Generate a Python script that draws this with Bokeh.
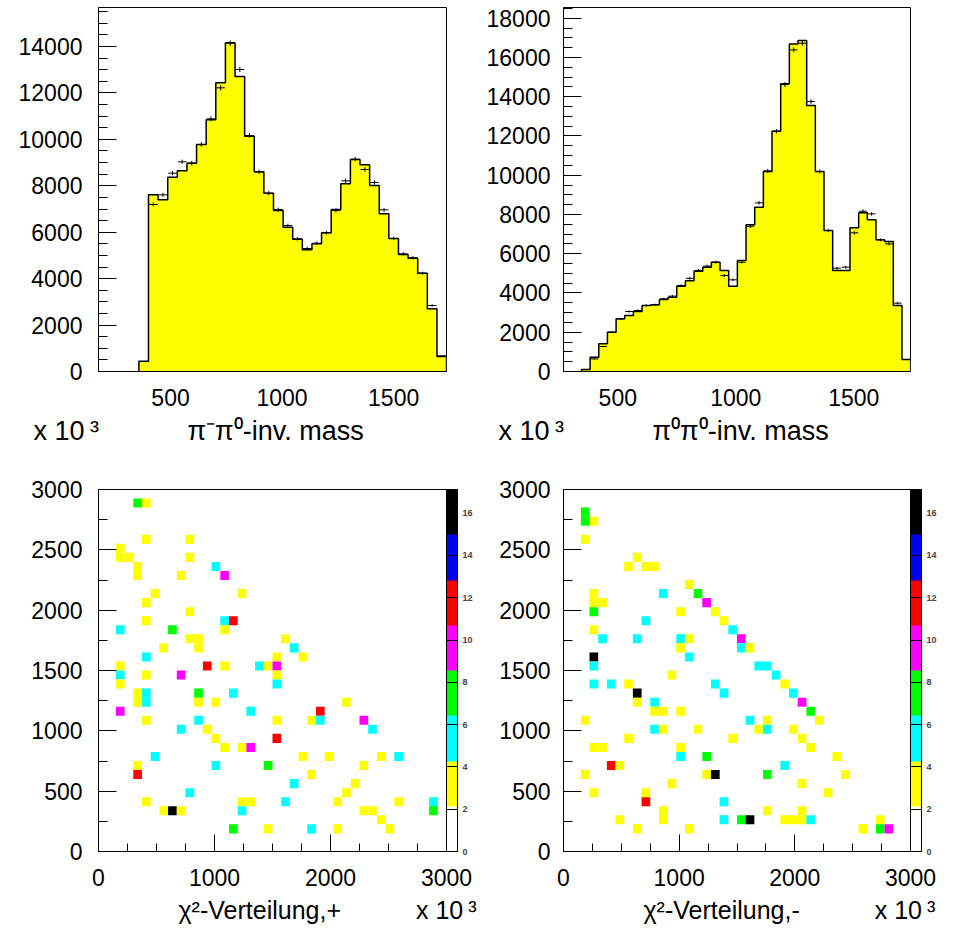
import numpy as np
from bokeh.plotting import figure
from bokeh.models import (ColumnDataSource, LinearColorMapper, ColorBar, FixedTicker,
                          Range1d, SingleIntervalTicker, Title)
from bokeh.layouts import gridplot
from bokeh.embed import file_html
from bokeh.resources import INLINE

# ---------------- data ----------------
# top left: pi- pi0 invariant mass
pm_first_edge = 358.0
pm_bin_width = 43.1
pm_mc = [445, 7610, 7395, 8372, 8644, 8975, 9779, 10841, 12435, 14158, 12708,
         10138, 8601, 7682, 6936, 6218, 5701, 5241, 5500, 5974, 6979, 8084,
         9132, 8903, 8013, 6792, 5729, 5040, 4882, 4236, 2700, 646]
pm_data = [430, 7194, 7610, 8544, 9032, 8975, 9779, 10884, 12220, 14144, 13010,
           10166, 8601, 7682, 6979, 6289, 5715, 5298, 5528, 5974, 6936, 8213,
           9147, 8702, 8142, 6964, 5729, 5069, 4897, 4236, 2843, 675]

# top right: pi0 pi0 invariant mass
zz_first_edge = 346.0
zz_bin_width = 36.7
zz_mc = [100, 730, 1409, 2004, 2683, 2853, 3056, 3362, 3396, 3668, 3786, 4347,
         4619, 5111, 5315, 5569, 5145, 4347, 5654, 7471, 8371, 10188, 12243,
         14654, 16691, 16861, 13550, 10188, 7183, 5145, 5145, 7318, 8082, 7726,
         6707, 6622, 3362, 611]
zz_data = [100, 640, 1273, 2004, 2683, 3056, 3107, 3362, 3396, 3700, 3840, 4380,
           4750, 5150, 5370, 5569, 4890, 4670, 5570, 7400, 8592, 10220, 12243,
           14620, 16386, 16725, 13754, 10188, 7183, 5264, 5315, 7064, 8167, 8031,
           6707, 6503, 3481, 611]

# chi^2 maps: 40 x 40 bins of 75 (x 10^3) on 0..3000
chi_bin = 75.0
plus_ix = [4, 5, 5, 10, 2, 2, 3, 10, 4, 13, 4, 9, 14, 6, 16, 5, 10, 5, 14, 15,
           2, 8, 14, 10, 11, 21, 7, 11, 22, 5, 20, 23, 2, 12, 14, 18, 19, 20,
           2, 5, 9, 20, 2, 20, 4, 5, 11, 15, 4, 5, 11, 13, 28, 2, 17, 25,
           5, 11, 20, 24, 25, 30, 9, 12, 31, 13, 20, 14, 16, 17, 6, 23, 26, 32, 34,
           4, 13, 19, 30, 4, 24, 22, 29, 10, 28, 5, 16, 17, 21, 27, 34, 38,
           7, 8, 9, 16, 30, 31, 38, 32, 15, 19, 24, 27, 33]
plus_iy = [38, 38, 34, 34, 33, 32, 32, 32, 31, 31, 30, 30, 30, 28, 28, 27, 26, 25, 25, 25,
           24, 24, 24, 23, 23, 23, 22, 22, 22, 21, 21, 21, 20, 20, 20, 20, 20, 20,
           19, 19, 19, 19, 18, 18, 17, 17, 17, 17, 16, 16, 16, 16, 16, 15, 15, 15,
           14, 14, 14, 14, 14, 14, 13, 13, 13, 12, 12, 11, 11, 11, 10, 10, 10, 10, 10,
           9, 9, 9, 9, 8, 8, 7, 7, 6, 6, 5, 5, 5, 5, 5, 5, 5,
           4, 4, 4, 4, 4, 4, 4, 3, 2, 2, 2, 2, 2]
plus_n = [7, 3, 3, 3, 3, 3, 3, 3, 3, 5, 3, 3, 9, 3, 3, 3, 3, 3, 5, 11,
          5, 7, 3, 3, 3, 3, 3, 3, 5, 5, 3, 3, 3, 11, 3, 5, 3, 9,
          5, 3, 9, 3, 3, 5, 3, 5, 7, 5, 3, 5, 3, 3, 3, 9, 5, 11,
          3, 5, 3, 3, 5, 9, 5, 3, 5, 3, 11, 3, 3, 9, 5, 3, 3, 3, 5,
          3, 5, 7, 3, 11, 3, 5, 3, 5, 3, 3, 3, 3, 5, 3, 3, 5,
          3, 16, 3, 5, 3, 3, 7, 3, 7, 3, 5, 3, 3]

minus_ix = [2, 2, 3, 2, 8, 7, 9, 10, 14, 3, 11, 15, 3, 4, 16, 3, 13, 17, 9, 18,
            3, 19, 4, 8, 13, 14, 20, 13, 20, 21, 3, 14, 3, 22, 23, 12, 24,
            3, 5, 7, 17, 25, 8, 18, 26, 8, 10, 27, 10, 11, 13, 28, 2, 21, 23, 29,
            10, 11, 15, 22, 23, 26, 7, 19, 27, 3, 4, 13, 28, 13, 16, 31, 5, 6, 25,
            2, 16, 17, 23, 32, 12, 27, 3, 9, 30, 9, 18, 11, 23, 27,
            6, 11, 18, 20, 21, 25, 26, 27, 28, 36, 8, 14, 34, 36, 37]
minus_iy = [37, 36, 36, 34, 32, 31, 31, 31, 29, 28, 28, 28, 27, 27, 27, 26, 26, 26, 25, 25,
            24, 24, 23, 23, 23, 23, 23, 22, 22, 22, 21, 21, 20, 20, 20, 19, 19,
            18, 18, 18, 18, 18, 17, 17, 17, 16, 16, 16, 15, 15, 15, 15, 14, 14, 14, 14,
            13, 13, 13, 13, 13, 13, 12, 12, 12, 11, 11, 11, 11, 10, 10, 10, 9, 9, 9,
            8, 8, 8, 8, 8, 7, 7, 6, 6, 6, 5, 5, 4, 4, 4,
            3, 3, 3, 3, 3, 3, 3, 3, 3, 3, 2, 2, 2, 2, 2]
minus_n = [7, 7, 3, 3, 3, 3, 3, 3, 3, 3, 5, 7, 3, 3, 9, 7, 3, 3, 5, 3,
           3, 5, 5, 5, 5, 3, 9, 3, 5, 3, 16, 5, 5, 5, 5, 3, 5,
           5, 5, 3, 5, 3, 16, 5, 5, 3, 5, 9, 3, 3, 3, 7, 3, 5, 3, 3,
           5, 3, 3, 3, 5, 3, 3, 3, 3, 3, 3, 3, 3, 5, 7, 3, 11, 3, 5,
           3, 3, 16, 7, 3, 3, 3, 3, 3, 3, 11, 5, 3, 3, 3,
           3, 3, 5, 7, 16, 3, 3, 3, 5, 3, 3, 3, 3, 7, 9]

z_levels_max = 17.12
z_palette = ["#ffffff", "#ffff00", "#00ffff", "#00ff00",
             "#ff00ff", "#ff0000", "#0000ff", "#000000"]
z_ticks = [0, 2, 4, 6, 8, 10, 12, 14, 16]

# axis titles (with the "x 10^3" exponent marks sharing the same line)
EM = "\u2003"
top_left_title = "x 10\u2009³" + EM * 3 + "   " + "π⁻π⁰-inv. mass"
top_right_title = "x 10\u2009³" + EM * 3 + "   " + "π⁰π⁰-inv. mass"
bot_left_title = "χ²-Verteilung,+" + EM * 3 + "x 10\u2009³"
bot_right_title = "χ²-Verteilung,-" + EM * 3 + "x 10\u2009³"

FONT = "Liberation Sans"

# ---------------- layout geometry ----------------
WL, WR = 481, 460
HT, HB = 460, 472
FH = 364


def make_fig(w, h, xr, yr, bl, br, bt, bb):
    p = figure(width=w, height=h, x_range=Range1d(*xr), y_range=Range1d(*yr),
               output_backend="svg", toolbar_location=None,
               min_border_left=bl, min_border_right=br,
               min_border_top=bt, min_border_bottom=bb)
    p.title.visible = False
    p.grid.visible = False
    p.outline_line_color = "black"
    p.outline_line_width = 1
    p.background_fill_color = "white"
    p.border_fill_color = "white"
    return p


def style_axes(p, xt, yt, x_in, x_min_in, y_in, y_min_in, y_standoff):
    xa = p.xaxis[0]
    ya = p.yaxis[0]
    xa.ticker = xt
    ya.ticker = yt
    for a in (xa, ya):
        a.major_tick_out = 0
        a.minor_tick_out = 0
        a.major_label_text_font = FONT
        a.major_label_text_font_size = "23px"
        a.major_label_text_color = "black"
        a.axis_line_color = "black"
        a.major_tick_line_color = "black"
        a.minor_tick_line_color = "black"
    xa.major_tick_in = x_in
    xa.minor_tick_in = x_min_in
    ya.major_tick_in = y_in
    ya.minor_tick_in = y_min_in
    xa.major_label_standoff = 17
    ya.major_label_standoff = y_standoff


def add_title(p, text, offset, standoff, size):
    t = Title(text=text, align="left", offset=offset, standoff=standoff,
              vertical_align="top", text_font=FONT, text_font_size=size,
              text_font_style="normal", text_color="black")
    p.add_layout(t, "below")


def hist_panel(w, bl, br, xr, yr, edge0, bw, mc, data, title, y_standoff):
    p = make_fig(w, HT, xr, yr, bl, br, 7, HT - 7 - FH)
    mc = np.asarray(mc, dtype=float)
    data = np.asarray(data, dtype=float)
    edges = edge0 + bw * np.arange(len(mc) + 1)
    xs = np.repeat(edges, 2)
    ys = np.concatenate([[0.0], np.repeat(mc, 2), [0.0]])
    p.patch(xs, ys, fill_color="#ffff00", line_color=None)
    p.line(xs, ys, line_color="black", line_width=1.5)
    centres = 0.5 * (edges[:-1] + edges[1:])
    err = np.sqrt(data)
    p.segment(x0=centres - 0.45 * bw, x1=centres + 0.45 * bw, y0=data, y1=data,
              line_color="black", line_width=1)
    p.segment(x0=centres, x1=centres, y0=data - err, y1=data + err,
              line_color="black", line_width=1)
    style_axes(p, SingleIntervalTicker(interval=500, num_minor_ticks=2),
               SingleIntervalTicker(interval=2000, num_minor_ticks=4),
               0, 0, 18, 9, y_standoff)
    add_title(p, title, -65, 14, "27px")
    return p


def map_panel(w, bl, br, ix, iy, n, title, y_standoff):
    p = make_fig(w, HB, (0, 3000), (0, 3000), bl, br, 29, HB - 29 - FH)
    ix = np.asarray(ix, dtype=float)
    iy = np.asarray(iy, dtype=float)
    mapper = LinearColorMapper(palette=z_palette, low=0, high=z_levels_max)
    src = ColumnDataSource(dict(l=ix * chi_bin, r=(ix + 1) * chi_bin,
                                b=iy * chi_bin, t=(iy + 1) * chi_bin, n=n))
    p.quad(left="l", right="r", bottom="b", top="t", source=src,
           fill_color={"field": "n", "transform": mapper}, line_color=None)
    style_axes(p, SingleIntervalTicker(interval=1000, num_minor_ticks=4),
               SingleIntervalTicker(interval=500, num_minor_ticks=2),
               17, 8, 18, 9, y_standoff)
    cb = ColorBar(color_mapper=mapper, ticker=FixedTicker(ticks=z_ticks),
                  width=11, margin=0, padding=0, label_standoff=5,
                  major_label_text_font=FONT, major_label_text_font_size="9px",
                  major_label_text_font_style="bold",
                  major_tick_in=11, major_tick_out=0,
                  major_tick_line_color="black", minor_tick_line_color=None,
                  bar_line_color="black", border_line_color=None,
                  background_fill_alpha=0)
    p.add_layout(cb, "right")
    add_title(p, title, 80, 14, "25px")
    return p


p1 = hist_panel(WL, 98, WL - 98 - 348, (177, 1737), (0, 15680), pm_first_edge,
                pm_bin_width, pm_mc, pm_data, top_left_title, 16)
p2 = hist_panel(WR, 82, WR - 82 - 347, (270, 1740), (0, 18545), zz_first_edge,
                zz_bin_width, zz_mc, zz_data, top_right_title, 13)
p3 = map_panel(WL, 98, WL - 98 - 348, plus_ix, plus_iy, plus_n, bot_left_title, 16)
p4 = map_panel(WR, 82, WR - 82 - 347, minus_ix, minus_iy, minus_n, bot_right_title, 13)

grid = gridplot([[p1, p2], [p3, p4]], toolbar_location=None)

open("out.html", "w").write(file_html(grid, INLINE))
